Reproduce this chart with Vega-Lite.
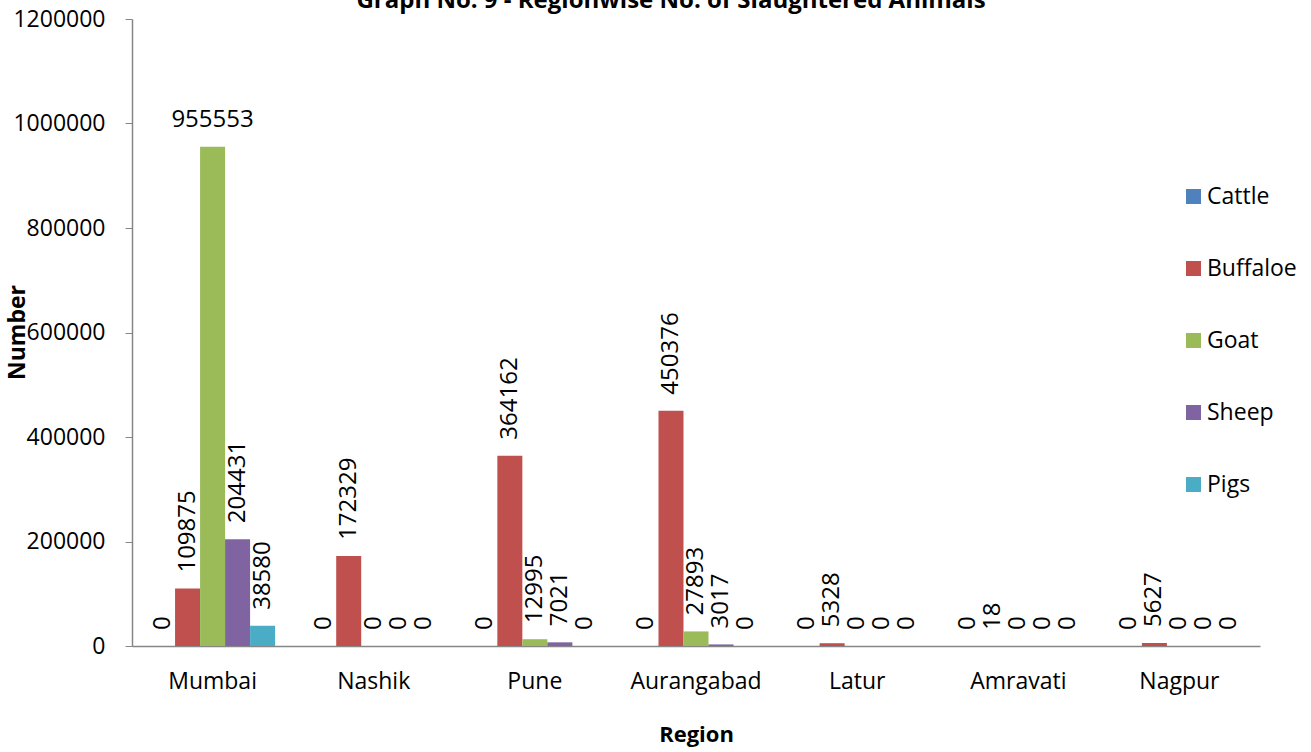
{
  "$schema": "https://vega.github.io/schema/vega-lite/v6.json",
  "width": 1128,
  "height": 627,
  "autosize": {"type": "none"},
  "padding": {"left": 132, "top": 19, "right": 51, "bottom": 106},
  "background": "white",
  "config": {
    "font": "Open Sans",
    "view": {"stroke": null},
    "axis": {"grid": false, "labelColor": "#000000", "titleColor": "#000000", "domainColor": "#868686", "tickColor": "#868686", "domainWidth": 1.5}
  },
  "title": {
    "text": "Graph No. 9 - Regionwise No. of Slaughtered Animals",
    "fontSize": 24,
    "fontWeight": "bold",
    "anchor": "middle",
    "baseline": "alphabetic",
    "offset": 0,
    "dx": -25,
    "dy": 24,
    "color": "#000000"
  },
  "data": {
    "values": [
      {"region": "Mumbai", "animal": "Cattle", "count": 0},
      {"region": "Mumbai", "animal": "Buffaloe", "count": 109875},
      {"region": "Mumbai", "animal": "Goat", "count": 955553},
      {"region": "Mumbai", "animal": "Sheep", "count": 204431},
      {"region": "Mumbai", "animal": "Pigs", "count": 38580},
      {"region": "Nashik", "animal": "Cattle", "count": 0},
      {"region": "Nashik", "animal": "Buffaloe", "count": 172329},
      {"region": "Nashik", "animal": "Goat", "count": 0},
      {"region": "Nashik", "animal": "Sheep", "count": 0},
      {"region": "Nashik", "animal": "Pigs", "count": 0},
      {"region": "Pune", "animal": "Cattle", "count": 0},
      {"region": "Pune", "animal": "Buffaloe", "count": 364162},
      {"region": "Pune", "animal": "Goat", "count": 12995},
      {"region": "Pune", "animal": "Sheep", "count": 7021},
      {"region": "Pune", "animal": "Pigs", "count": 0},
      {"region": "Aurangabad", "animal": "Cattle", "count": 0},
      {"region": "Aurangabad", "animal": "Buffaloe", "count": 450376},
      {"region": "Aurangabad", "animal": "Goat", "count": 27893},
      {"region": "Aurangabad", "animal": "Sheep", "count": 3017},
      {"region": "Aurangabad", "animal": "Pigs", "count": 0},
      {"region": "Latur", "animal": "Cattle", "count": 0},
      {"region": "Latur", "animal": "Buffaloe", "count": 5328},
      {"region": "Latur", "animal": "Goat", "count": 0},
      {"region": "Latur", "animal": "Sheep", "count": 0},
      {"region": "Latur", "animal": "Pigs", "count": 0},
      {"region": "Amravati", "animal": "Cattle", "count": 0},
      {"region": "Amravati", "animal": "Buffaloe", "count": 18},
      {"region": "Amravati", "animal": "Goat", "count": 0},
      {"region": "Amravati", "animal": "Sheep", "count": 0},
      {"region": "Amravati", "animal": "Pigs", "count": 0},
      {"region": "Nagpur", "animal": "Cattle", "count": 0},
      {"region": "Nagpur", "animal": "Buffaloe", "count": 5627},
      {"region": "Nagpur", "animal": "Goat", "count": 0},
      {"region": "Nagpur", "animal": "Sheep", "count": 0},
      {"region": "Nagpur", "animal": "Pigs", "count": 0}
    ]
  },
  "encoding": {
    "x": {
      "field": "region",
      "type": "nominal",
      "sort": null,
      "scale": {"paddingInner": 0.224, "paddingOuter": 0.112},
      "axis": {
        "title": "Region",
        "titleFontSize": 22,
        "titleFontWeight": "bold",
        "titleY": 88,
        "titleBaseline": "middle",
        "labelAngle": 0,
        "labelFontSize": 23,
        "labelPadding": 24,
        "ticks": false,
        "tickSize": 0
      }
    },
    "xOffset": {
      "field": "animal",
      "type": "nominal",
      "sort": ["Cattle", "Buffaloe", "Goat", "Sheep", "Pigs"],
      "scale": {"paddingInner": 0, "paddingOuter": 0}
    },
    "y": {
      "field": "count",
      "type": "quantitative",
      "scale": {"domain": [0, 1200000], "nice": false},
      "axis": {
        "title": "Number",
        "titleFontSize": 23,
        "titleFontWeight": "bold",
        "titleX": -115,
        "titleY": 313,
        "titleAngle": -90,
        "titleAlign": "center",
        "titleBaseline": "middle",
        "values": [0, 200000, 400000, 600000, 800000, 1000000, 1200000],
        "format": "d",
        "labelFontSize": 23,
        "tickSize": 7,
        "labelPadding": 20
      }
    }
  },
  "layer": [
    {
      "mark": {"type": "bar"},
      "encoding": {
        "color": {
          "field": "animal",
          "type": "nominal",
          "sort": ["Cattle", "Buffaloe", "Goat", "Sheep", "Pigs"],
          "scale": {
            "domain": ["Cattle", "Buffaloe", "Goat", "Sheep", "Pigs"],
            "range": ["#4F81BD", "#C0504D", "#9BBB59", "#8064A2", "#4BACC6"]
          },
          "legend": {
            "title": null,
            "orient": "none",
            "legendX": 1050,
            "legendY": 166,
            "symbolType": "square",
            "symbolSize": 225,
            "symbolStrokeWidth": 0,
            "labelFontSize": 23,
            "labelColor": "#000000",
            "labelOffset": 2,
            "rowPadding": 48
          }
        }
      }
    },
    {
      "transform": [{"filter": "datum.count < 900000"}],
      "mark": {"type": "text", "angle": -90, "align": "left", "baseline": "middle", "dx": 16, "fontSize": 24, "color": "#000000"},
      "encoding": {"text": {"field": "count", "type": "quantitative", "format": "d"}}
    },
    {
      "transform": [{"filter": "datum.count >= 900000"}],
      "mark": {"type": "text", "align": "center", "baseline": "bottom", "dy": -15, "fontSize": 24, "color": "#000000"},
      "encoding": {"text": {"field": "count", "type": "quantitative", "format": "d"}}
    }
  ]
}
